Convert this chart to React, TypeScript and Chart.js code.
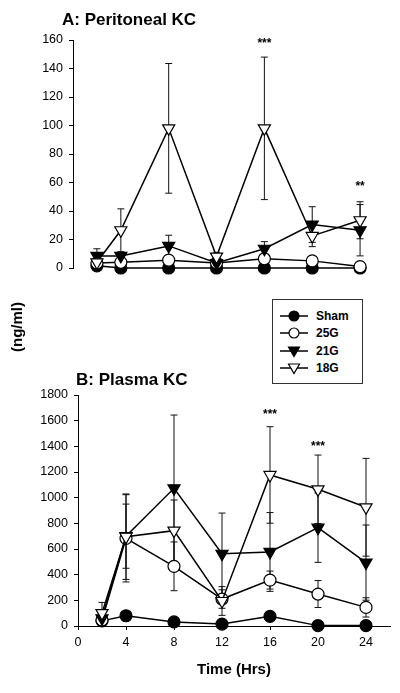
import React, { useEffect, useRef } from 'react';
import { Chart, registerables } from 'chart.js';

Chart.register(...registerables);

// ---------- data ----------
const hours = [2, 4, 8, 12, 16, 20, 24];
const xTicks = [0, 4, 8, 12, 16, 20, 24];
const yTicksA = [0, 20, 40, 60, 80, 100, 120, 140, 160];
const yTicksB = [0, 200, 400, 600, 800, 1000, 1200, 1400, 1600, 1800];
const groups = ['Sham', '25G', '21G', '18G'];

// Panel A: Peritoneal KC (ng/ml)
const shamA = [1.5, 0, 0, 0, 0, 0, 0];
const g25A = [3.5, 4, 5.5, 3.5, 6.5, 5, 1];
const g21A = [8.5, 8.5, 15.5, 3.5, 13.5, 30.5, 26.5];
const g18A = [4, 26.5, 98, 8, 98, 22.5, 33.5];
const shamAErr = [0.5, 0, 0, 0, 0, 0, 0];
const g25AErr = [1, 1, 1.5, 1, 1.5, 1, 0.5];
const g21AErr = [5, 2, 7.5, 1, 5, 12.5, 18];
const g18AErr = [2, 15, 45.5, 3, 50, 7.5, 13];

// Panel B: Plasma KC (ng/ml)
const shamB = [40, 80, 32, 15, 75, 3, 3];
const g25B = [47, 683, 465, 210, 358, 249, 145];
const g21B = [60, 700, 1073, 563, 577, 766, 494];
const g18B = [100, 696, 743, 195, 1177, 1065, 925];
const shamBErr = [15, 15, 10, 10, 25, 3, 3];
const g25BErr = [20, 340, 190, 72, 70, 105, 75];
const g21BErr = [40, 250, 571, 317, 307, 270, 293];
const g18BErr = [84, 333, 239, 112, 376, 267, 381];

// significance marks
const starLabelsA = ['***', '**'];
const starHoursA = [16, 24];
const starValuesA = [160, 60];
const starLabelsB = ['***', '***'];
const starHoursB = [16, 20];
const starValuesB = [1675, 1428];

// ---------- styles ----------
const FONT = '"Liberation Sans", Arial, Helvetica, sans-serif';
const groupStyle: Record<string, any> = {
  Sham: { pointStyle: 'circle', fill: '#000', radius: 6, rotation: 0, order: 4 },
  '25G': { pointStyle: 'circle', fill: '#fff', radius: 6, rotation: 0, order: 3 },
  '21G': { pointStyle: 'triangle', fill: '#000', radius: 7, rotation: 180, order: 2 },
  '18G': { pointStyle: 'triangle', fill: '#fff', radius: 7, rotation: 180, order: 1 },
};

function makeDatasets(values: number[][], errs: number[][]) {
  return groups.map((g, i) => {
    const s = groupStyle[g];
    return {
      label: g,
      data: hours.map((h, j) => ({ x: h, y: values[i][j] })),
      errors: errs[i],
      borderColor: '#000',
      borderWidth: 1.5,
      backgroundColor: s.fill,
      pointBackgroundColor: s.fill,
      pointBorderColor: '#000',
      pointBorderWidth: 1.2,
      pointStyle: s.pointStyle,
      pointRadius: s.radius,
      pointRotation: s.rotation,
      tension: 0,
      clip: false,
      order: s.order,
    };
  });
}

const errorBarPlugin = {
  id: 'errorBars',
  beforeDatasetsDraw(chart: any) {
    const { ctx } = chart;
    const yScale = chart.scales.y;
    ctx.save();
    ctx.strokeStyle = '#111';
    ctx.lineWidth = 1;
    chart.data.datasets.forEach((ds: any, i: number) => {
      const meta = chart.getDatasetMeta(i);
      if (!ds.errors) return;
      meta.data.forEach((pt: any, j: number) => {
        const e = ds.errors[j];
        if (!e) return;
        const v = ds.data[j].y;
        const x = pt.x;
        const yUp = yScale.getPixelForValue(v + e);
        const yDn = yScale.getPixelForValue(Math.max(0, v - e));
        ctx.beginPath();
        ctx.moveTo(x, yUp);
        ctx.lineTo(x, yDn);
        ctx.moveTo(x - 3.5, yUp);
        ctx.lineTo(x + 3.5, yUp);
        ctx.moveTo(x - 3.5, yDn);
        ctx.lineTo(x + 3.5, yDn);
        ctx.stroke();
      });
    });
    ctx.restore();
  },
  afterDraw(chart: any) {
    const stars = chart.options.plugins.stars;
    if (!stars) return;
    const { ctx } = chart;
    ctx.save();
    ctx.fillStyle = '#000';
    ctx.font = `bold 12px ${FONT}`;
    ctx.textAlign = 'center';
    ctx.textBaseline = 'alphabetic';
    stars.labels.forEach((t: string, k: number) => {
      const x = chart.scales.x.getPixelForValue(stars.hours[k]);
      const y = chart.scales.y.getPixelForValue(stars.values[k]);
      ctx.fillText(t, x, y + 7);
    });
    ctx.restore();
  },
};

function makeOptions(opts: {
  yTicks: number[];
  yMax: number;
  yWidth: number;
  showX: boolean;
  padding: any;
  xHeight?: number;
  stars: any;
}) {
  return {
    responsive: false,
    animation: false as const,
    devicePixelRatio: 1,
    layout: { padding: opts.padding },
    plugins: {
      legend: { display: false },
      tooltip: { enabled: false },
      stars: opts.stars,
    },
    scales: {
      x: {
        type: 'linear' as const,
        min: 0,
        max: 26,
        display: opts.showX,
        afterBuildTicks: (scale: any) => {
          scale.ticks = xTicks.map((v) => ({ value: v }));
        },
        afterFit: (scale: any) => {
          if (opts.xHeight) scale.height = opts.xHeight;
        },
        grid: { drawOnChartArea: false, drawTicks: true, tickLength: 4, color: '#000' },
        border: { display: true, color: '#000', width: 1 },
        ticks: {
          color: '#000',
          font: { family: FONT, size: 12.5 },
          padding: 5,
          maxRotation: 0,
          callback: (v: any) => String(v),
        },
        title: {
          display: opts.showX,
          text: 'Time (Hrs)',
          color: '#000',
          font: { family: FONT, size: 15, weight: 'bold' },
          padding: { top: 0, bottom: 14 },
        },
      },
      y: {
        type: 'linear' as const,
        min: 0,
        max: opts.yMax,
        afterBuildTicks: (scale: any) => {
          scale.ticks = opts.yTicks.map((v) => ({ value: v }));
        },
        afterFit: (scale: any) => {
          scale.width = opts.yWidth;
        },
        grid: { drawOnChartArea: false, drawTicks: true, tickLength: 4, color: '#000' },
        border: { display: true, color: '#000', width: 1 },
        ticks: {
          color: '#000',
          font: { family: FONT, size: 12.5 },
          padding: 6,
          callback: (v: any) => String(v),
        },
      },
    },
  };
}

function LegendMarker({ g }: { g: string }) {
  const s = groupStyle[g];
  return (
    <svg width={30} height={16} style={{ display: 'block' }}>
      <line x1={0} y1={8} x2={28} y2={8} stroke="#000" strokeWidth={1.5} />
      {s.pointStyle === 'circle' ? (
        <circle cx={14} cy={8} r={5} fill={s.fill} stroke="#000" strokeWidth={1.2} />
      ) : (
        <polygon points="8.5,4 19.5,4 14,13.5" fill={s.fill} stroke="#000" strokeWidth={1.2} />
      )}
    </svg>
  );
}

export default function App() {
  const refA = useRef<HTMLCanvasElement>(null);
  const refB = useRef<HTMLCanvasElement>(null);

  useEffect(() => {
    const chartA = new Chart(refA.current as HTMLCanvasElement, {
      type: 'line',
      data: {
        datasets: makeDatasets([shamA, g25A, g21A, g18A], [shamAErr, g25AErr, g21AErr, g18AErr]) as any,
      },
      options: makeOptions({
        yTicks: yTicksA,
        yMax: 160,
        yWidth: 73,
        showX: false,
        padding: { left: 0, right: 16, top: 40, bottom: 22 },
        stars: { labels: starLabelsA, hours: starHoursA, values: starValuesA },
      }) as any,
      plugins: [errorBarPlugin],
    });
    const chartB = new Chart(refB.current as HTMLCanvasElement, {
      type: 'line',
      data: {
        datasets: makeDatasets([shamB, g25B, g21B, g18B], [shamBErr, g25BErr, g21BErr, g18BErr]) as any,
      },
      options: makeOptions({
        yTicks: yTicksB,
        yMax: 1800,
        yWidth: 78,
        showX: true,
        xHeight: 67,
        padding: { left: 0, right: 10, top: 95, bottom: 0 },
        stars: { labels: starLabelsB, hours: starHoursB, values: starValuesB },
      }) as any,
      plugins: [errorBarPlugin],
    });
    return () => {
      chartA.destroy();
      chartB.destroy();
    };
  }, []);

  const legendRows = [316, 333, 351, 368];

  return (
    <div
      style={{
        position: 'absolute',
        left: 0,
        top: 0,
        width: 400,
        height: 693,
        background: '#fff',
        fontFamily: FONT,
        color: '#000',
        overflow: 'hidden',
      }}
    >
      <canvas
        ref={refA}
        width={400}
        height={290}
        style={{ position: 'absolute', left: 0, top: 0, width: 400, height: 290 }}
      />
      <canvas
        ref={refB}
        width={400}
        height={393}
        style={{ position: 'absolute', left: 0, top: 300, width: 400, height: 393 }}
      />
      <div
        style={{
          position: 'absolute',
          left: 62,
          top: 11,
          fontSize: 17,
          lineHeight: '17px',
          fontWeight: 'bold',
          whiteSpace: 'nowrap',
        }}
      >
        A: Peritoneal KC
      </div>
      <div
        style={{
          position: 'absolute',
          left: 76,
          top: 371,
          fontSize: 17,
          lineHeight: '17px',
          fontWeight: 'bold',
          whiteSpace: 'nowrap',
        }}
      >
        B: Plasma KC
      </div>
      <div
        style={{
          position: 'absolute',
          left: 17 - 50,
          top: 327 - 10,
          width: 100,
          height: 20,
          lineHeight: '20px',
          textAlign: 'center',
          fontSize: 15,
          fontWeight: 'bold',
          transform: 'rotate(-90deg)',
          whiteSpace: 'nowrap',
        }}
      >
        (ng/ml)
      </div>
      <div
        style={{
          position: 'absolute',
          left: 272,
          top: 299,
          width: 89,
          height: 83,
          border: '1px solid #333',
          background: '#fff',
        }}
      />
      {groups.map((g, i) => (
        <div
          key={g}
          style={{
            position: 'absolute',
            left: 280,
            top: legendRows[i] - 8,
            height: 16,
            display: 'flex',
            alignItems: 'center',
          }}
        >
          <LegendMarker g={g} />
          <span style={{ marginLeft: 6, fontSize: 12, fontWeight: 'bold', lineHeight: '16px' }}>{g}</span>
        </div>
      ))}
    </div>
  );
}
